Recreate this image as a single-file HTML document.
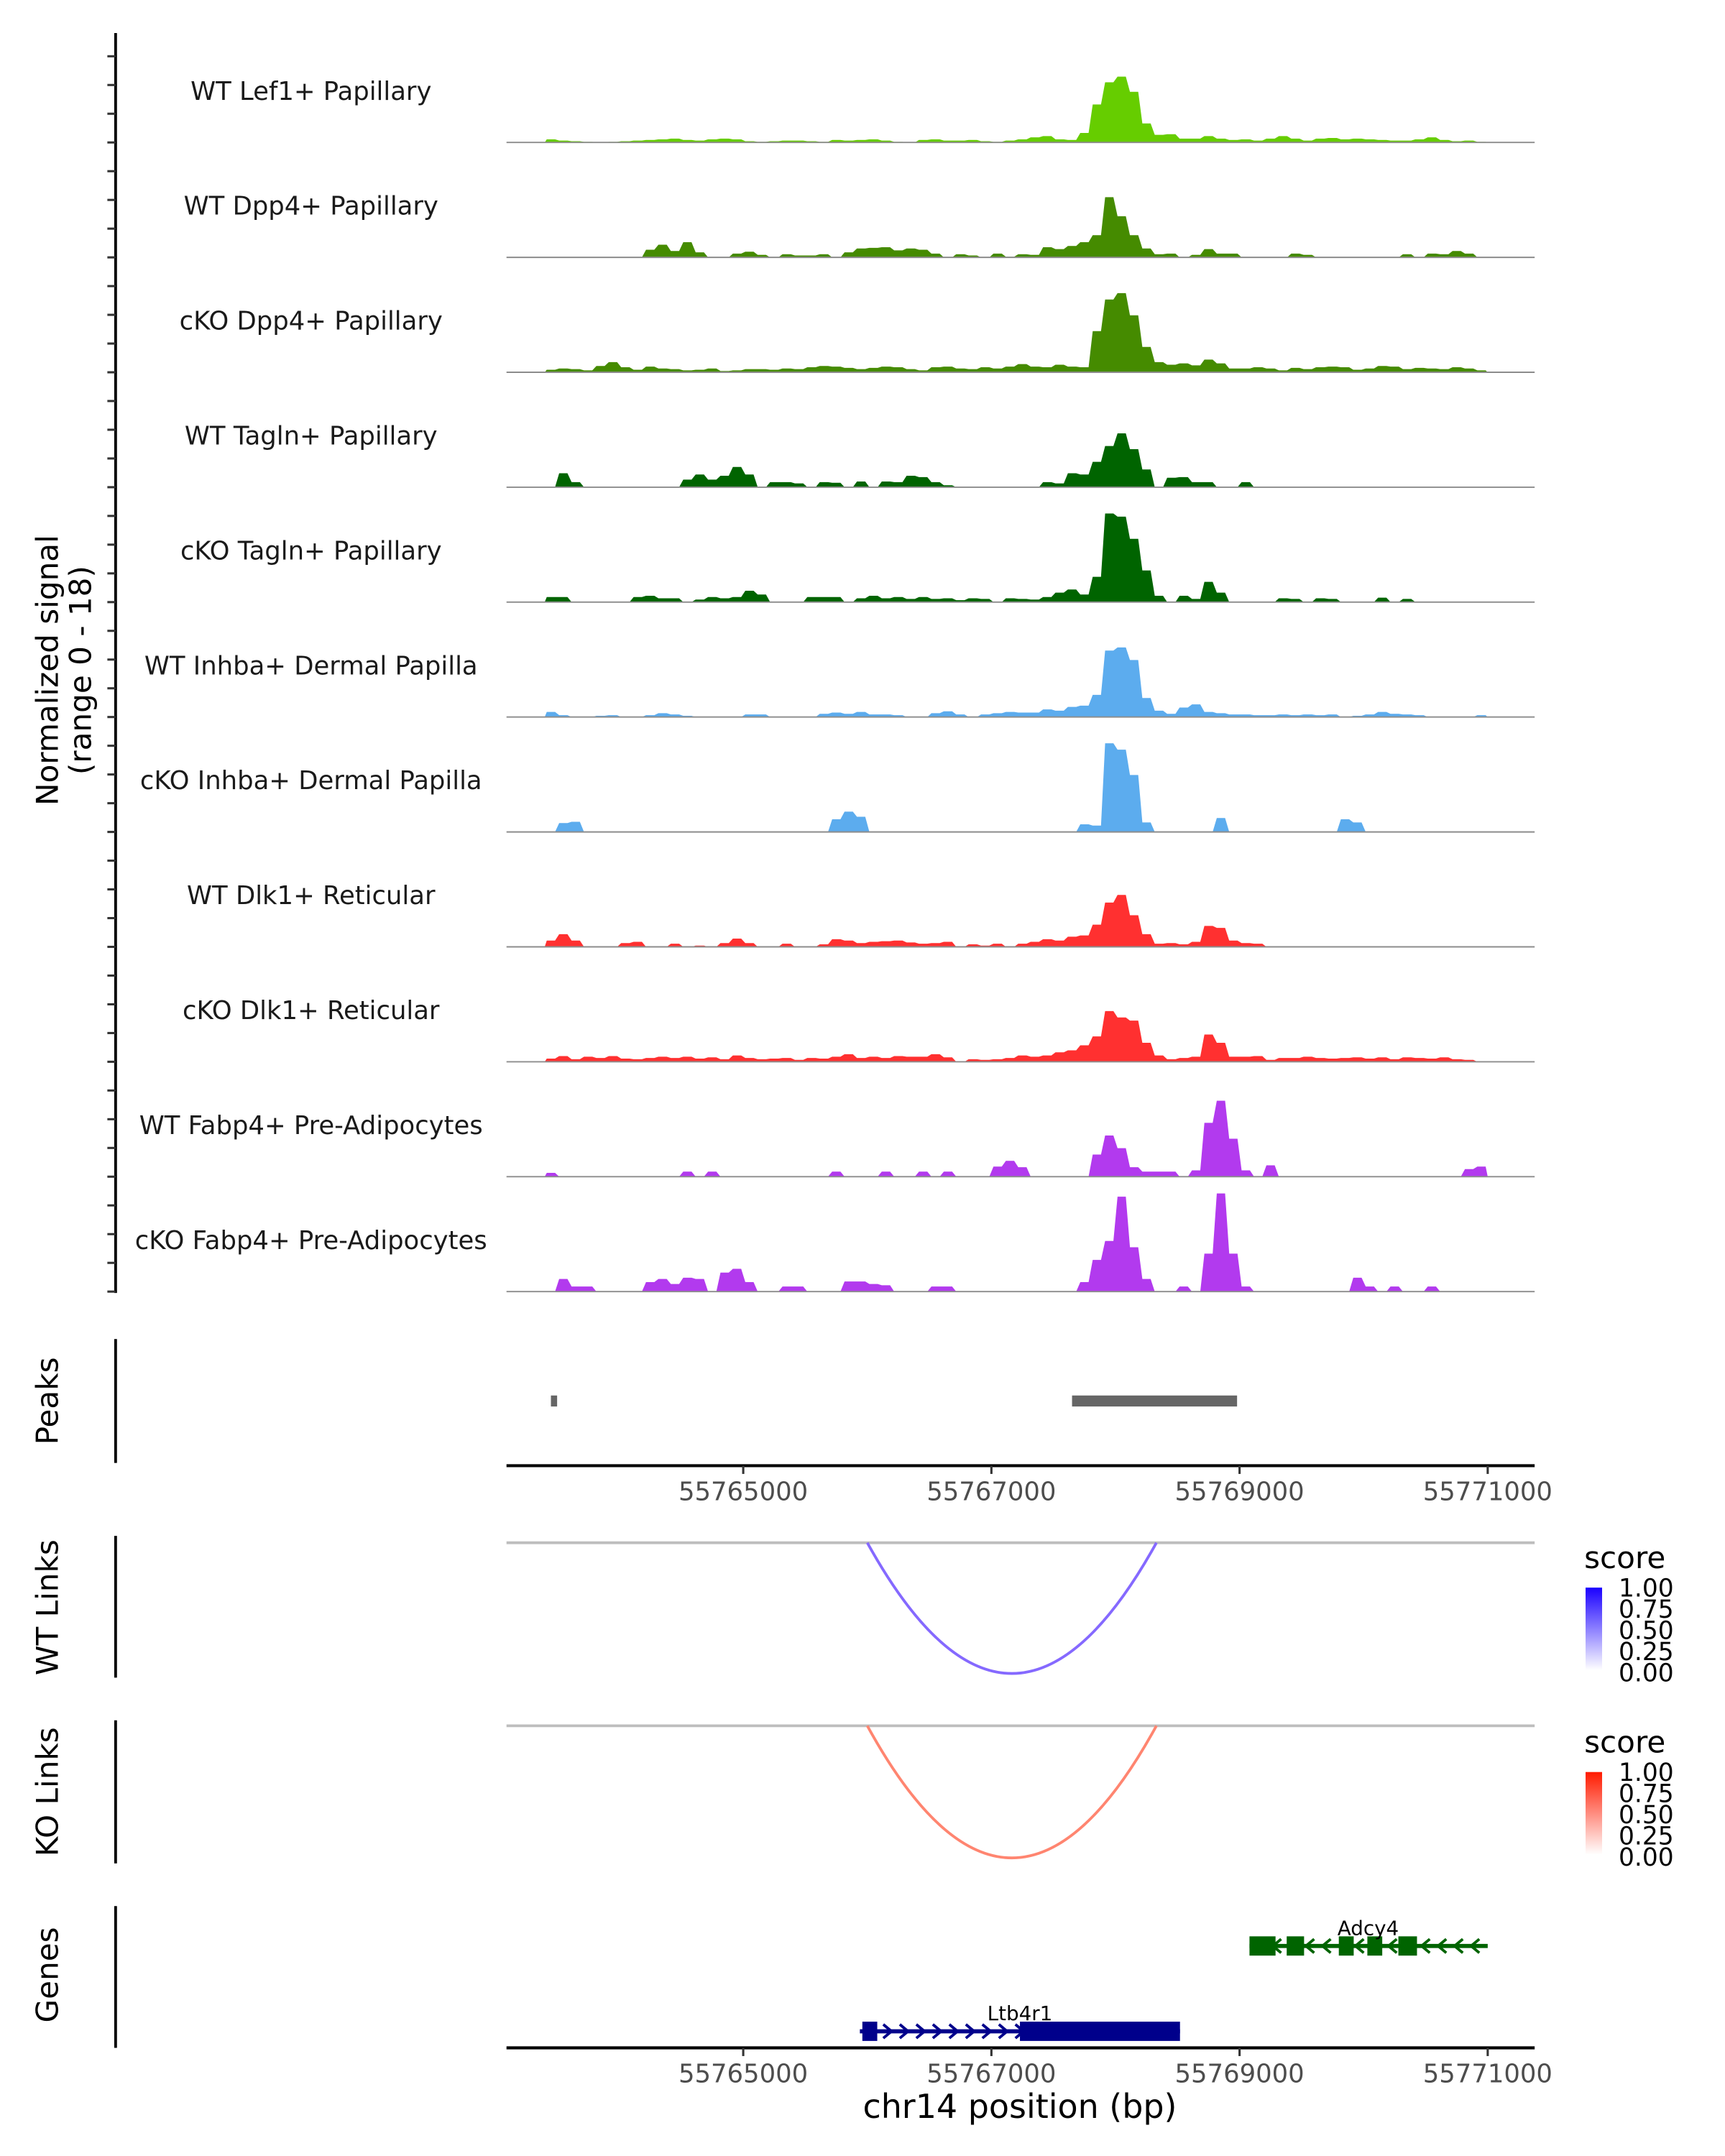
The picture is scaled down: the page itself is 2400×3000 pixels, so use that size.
<!DOCTYPE html>
<html><head><meta charset="utf-8"><style>
html,body{margin:0;padding:0;background:#fff;}
svg{display:block;font-family:"DejaVu Sans","Liberation Sans",sans-serif;}
</style></head><body>
<svg id="chart" xmlns="http://www.w3.org/2000/svg" width="2400" height="3000" viewBox="0 0 1253.3 1566.6">
<rect x="0" y="0" width="1253.3" height="1566.6" fill="#fff"/>
<g id="tracks"></g>
<text transform="translate(42,487) rotate(-90)" text-anchor="middle" font-size="22" fill="#000">Normalized signal</text>
<text transform="translate(66,487) rotate(-90)" text-anchor="middle" font-size="22" fill="#000">(range 0 - 18)</text>

<line x1="84" y1="973" x2="84" y2="1063" stroke="#000" stroke-width="2"/>
<text transform="translate(42,1018) rotate(-90)" text-anchor="middle" font-size="22">Peaks</text>
<g id="peaks"></g>
<g id="xaxis1"></g>

<line x1="84" y1="1116" x2="84" y2="1219" stroke="#000" stroke-width="2"/>
<text transform="translate(42,1168) rotate(-90)" text-anchor="middle" font-size="22">WT Links</text>
<line x1="368" y1="1121" x2="1115" y2="1121" stroke="#bdbdbd" stroke-width="2"/>
<g id="wtlinks"></g>
<line x1="84" y1="1250" x2="84" y2="1354" stroke="#000" stroke-width="2"/>
<text transform="translate(42,1302) rotate(-90)" text-anchor="middle" font-size="22">KO Links</text>
<line x1="368" y1="1254" x2="1115" y2="1254" stroke="#bdbdbd" stroke-width="2"/>
<g id="kolinks"></g>

<defs>
<linearGradient id="gb" x1="0" y1="1" x2="0" y2="0"><stop offset="0" stop-color="#fff"/><stop offset="1" stop-color="#1a00ff"/></linearGradient>
<linearGradient id="gr" x1="0" y1="1" x2="0" y2="0"><stop offset="0" stop-color="#fff"/><stop offset="1" stop-color="#ff1a00"/></linearGradient>
</defs>
<g>
<text x="1151" y="1139.5" font-size="22">score</text>
<rect x="1152" y="1153.6" width="12" height="60" fill="url(#gb)"/>
<g font-size="18" fill="#000">
<text x="1176" y="1160">1.00</text><text x="1176" y="1175.4">0.75</text><text x="1176" y="1190.8">0.50</text><text x="1176" y="1206.2">0.25</text><text x="1176" y="1221.6">0.00</text>
</g></g>
<g>
<text x="1151" y="1273.5" font-size="22">score</text>
<rect x="1152" y="1287.6" width="12" height="60" fill="url(#gr)"/>
<g font-size="18" fill="#000">
<text x="1176" y="1294">1.00</text><text x="1176" y="1309.4">0.75</text><text x="1176" y="1324.8">0.50</text><text x="1176" y="1340.2">0.25</text><text x="1176" y="1355.6">0.00</text>
</g></g>

<line x1="84" y1="1385" x2="84" y2="1488" stroke="#000" stroke-width="2"/>
<text transform="translate(42,1435) rotate(-90)" text-anchor="middle" font-size="22">Genes</text>
<g id="genes"></g>
<g id="xaxis2"></g>
<text x="741" y="1539" text-anchor="middle" font-size="24">chr14 position (bp)</text>
</svg>
<script>
const binStart = 55763400;
const binWidth = 100;
const trackNames = ["WT Lef1+ Papillary","WT Dpp4+ Papillary","cKO Dpp4+ Papillary","WT Tagln+ Papillary","cKO Tagln+ Papillary","WT Inhba+ Dermal Papilla","cKO Inhba+ Dermal Papilla","WT Dlk1+ Reticular","cKO Dlk1+ Reticular","WT Fabp4+ Pre-Adipocytes","cKO Fabp4+ Pre-Adipocytes"];
const trackColors = ["#66cd00","#458b00","#458b00","#006400","#006400","#5cacee","#5cacee","#ff3030","#ff3030","#b23aee","#b23aee"];
const sigLef1WT = [.5,.3,.2,.1,0,.1,.2,.3,.4,.5, .6,.4,.3,.5,.6,.5,.2,.1,.2,.3, .3,.2,.1,.4,.3,.4,.5,.3,.1,0, .4,.5,.3,.3,.4,.2,.1,.3,.5,.8, 1.0,.5,.4,1.5,6.0,9.5,10.4,8.0,3.0,1.2, 1.3,.6,.6,1.0,.6,.4,.5,.3,.6,1.0, .6,.3,.6,.7,.5,.6,.5,.4,.3,.3, .5,.8,.4,.2,.3,.1];
const sigDpp4WT = [0,0,0,0,0,0,0,0,1.2,2.0, 1.0,2.4,.8,0,0,.6,.9,.4,0,.5, .3,.3,.5,0,.8,1.4,1.5,1.6,1.1,1.4, 1.2,.6,0,.5,.3,0,.6,.1,.5,.4, 1.6,1.3,1.8,2.4,3.5,9.5,6.5,3.5,1.4,.5, .6,0,.4,1.3,.6,.6,0,0,0,0, .6,.4,0,0,0,0,0,0,0,.5, 0,.6,.5,1.0,.6,0];
const sigDpp4KO = [.4,.6,.5,.3,1.0,1.6,.8,.4,.9,.6, .5,.3,.4,.6,.2,.3,.5,.5,.4,.6, .5,.8,1.0,.9,.7,.5,.7,.9,.8,.5, .3,.8,.9,.6,.5,.8,.6,.9,1.3,.9, .8,1.2,.9,.8,6.5,11.5,12.5,9.0,4.0,1.6, 1.2,1.4,1.1,2.0,1.4,.6,.6,.8,.6,.3, .7,.5,.8,.9,.8,.4,.6,1.0,.9,.5, .7,.6,.5,.8,.6,.3];
const sigTaglnWT = [0,2.2,.8,0,0,0,0,0,0,0, 0,1.2,2.0,1.2,1.8,3.2,2.0,0,.8,.8, .6,0,.8,.7,0,.9,0,.9,.8,1.8, 1.6,.8,.3,0,0,0,0,0,0,0, .8,.6,2.2,2.0,4.0,6.5,8.5,6.0,2.8,0, 1.5,1.6,.8,.8,0,0,.8,0,0,0, 0,0,0,0,0,0,0,0,0,0, 0,0,0,0,0,0];
const sigTaglnKO = [.8,.8,0,0,0,0,0,.8,1.0,.6, .6,0,.4,.8,.6,.8,1.8,1.2,0,0, 0,.8,.8,.8,0,.6,1.0,.6,.8,.5, .8,.5,.6,.3,.6,.5,0,.6,.5,.4, .8,1.5,2.0,1.2,4.0,14.0,13.5,10.0,5.0,1.0, 0,1.0,.5,3.2,1.5,0,0,0,0,.6, .5,0,.6,.5,0,0,0,.7,0,.5, 0,0,0,0,0,0];
const sigInhbaWT = [.8,.3,0,0,.2,.3,0,0,.3,.6, .4,.2,0,0,0,0,.4,.4,0,0, 0,0,.5,.7,.5,.8,.4,.4,.3,0, 0,.6,.9,.4,0,.4,.6,.8,.7,.7, 1.2,1.0,1.6,1.8,3.5,10.5,11.0,9.0,3.0,1.0, .5,1.5,2.0,.8,.6,.4,.4,.3,.3,.4, .3,.4,.3,.4,0,.2,.4,.8,.5,.4, .3,0,0,0,0,.3];
const sigInhbaKO = [0,1.4,1.6,0,0,0,0,0,0,0, 0,0,0,0,0,0,0,0,0,0, 0,0,0,2.0,3.2,2.4,0,0,0,0, 0,0,0,0,0,0,0,0,0,0, 0,0,0,1.2,1.0,14.0,13.0,9.0,1.5,0, 0,0,0,0,2.2,0,0,0,0,0, 0,0,0,0,2.0,1.5,0,0,0,0, 0,0,0,0,0,0];
const sigDlk1WT = [1.0,2.0,1.0,0,0,0,.6,.8,0,0, .5,0,.2,0,.6,1.3,.6,0,0,.5, 0,0,.4,1.2,1.0,.6,.8,.9,1.0,.7, .5,.6,.8,0,.4,.2,.5,0,.5,.8, 1.2,1.0,1.6,1.8,3.5,7.0,8.2,5.0,2.0,.5, .6,.4,.8,3.3,3.0,1.0,.6,.5,0,0, 0,0,0,0,0,0,0,0,0,0, 0,0,0,0,0,0];
const sigDlk1KO = [.5,.9,.4,.8,.6,.9,.5,.4,.6,.8, .6,.8,.5,.7,.4,1.0,.6,.4,.5,.6, .3,.6,.5,.8,1.2,.6,.8,.6,.9,.8, .8,1.2,.7,0,.4,.3,.4,.6,1.0,.8, 1.0,1.5,1.8,2.6,4.0,8.0,7.0,6.5,3.0,1.0, .4,.6,.8,4.3,3.0,.8,.8,.9,.3,.6, .6,.8,.6,.5,.6,.7,.5,.7,.4,.7, .6,.5,.7,.4,.3,0];
const sigFabp4WT = [.6,0,0,0,0,0,0,0,0,0, 0,.8,0,.8,0,0,0,0,0,0, 0,0,0,.8,0,0,0,.8,0,0, .8,0,.8,0,0,0,1.6,2.5,1.5,0, 0,0,0,0,3.5,6.5,4.5,1.5,.8,.8, .8,0,1.0,8.5,12.0,6.0,1.0,0,1.8,0, 0,0,0,0,0,0,0,0,0,0, 0,0,0,0,1.2,1.6];
const sigFabp4KO = [0,2.0,.8,.8,0,0,0,0,1.5,2.0, 1.2,2.2,2.0,0,3.0,3.6,1.5,0,0,.8, .8,0,0,0,1.6,1.6,1.2,1.0,0,0, 0,.8,.8,0,0,0,0,0,0,0, 0,0,0,1.5,5.0,8.0,15.0,7.0,2.0,0, 0,.8,0,6.0,15.5,6.0,.8,0,0,0, 0,0,0,0,0,2.2,.8,0,.8,0, 0,.8,0,0,0,0];
const signals = [sigLef1WT,sigDpp4WT,sigDpp4KO,sigTaglnWT,sigTaglnKO,sigInhbaWT,sigInhbaKO,sigDlk1WT,sigDlk1KO,sigFabp4WT,sigFabp4KO];
const xTicks = [55765000,55767000,55769000,55771000];
const peakStarts = [55763450, 55767650];
const peakEnds = [55763500, 55768980];
const linkStarts = [55766000];
const linkEnds = [55768330];
const wtLinkScores = [0.7];
const koLinkScores = [0.7];
const geneNames = ["Adcy4","Ltb4r1"];
const geneStarts = [55769080, 55765940];
const geneEnds = [55771000, 55768520];
const geneStrand = [-1, 1];
const adcy4Exons = [[55769080,55769290],[55769380,55769520],[55769800,55769920],[55770030,55770150],[55770280,55770430]];
const ltb4r1Exons = [[55765960,55766080],[55767230,55768520]];
const geneExons = [adcy4Exons, ltb4r1Exons];

const NS="http://www.w3.org/2000/svg";
const X0=368, X1=1115, BP0=55765000, PXBP=180.3/2000;
function xs(bp){return 540 + (bp-BP0)*PXBP;}
const trackH=83.5, firstBase=103.5, unitPx=4.6;
function ys(v,base){return base - v*unitPx;}
function mk(tag,attrs,parent){const e=document.createElementNS(NS,tag);for(const k in attrs)e.setAttribute(k,attrs[k]);parent.appendChild(e);return e;}

const tracks=document.getElementById('tracks');
let ax=mk('line',{x1:84,y1:24,x2:84,y2:firstBase+trackH*10+1,stroke:'#000','stroke-width':2},tracks);


for(let t=0;t<11;t++){
  const base=firstBase+t*trackH;
  for(let k=0;k<4;k++){
    const ty=base-k*trackH/4;
    const tk=mk('line',{x1:78,y1:ty,x2:84,y2:ty,stroke:'#333','stroke-width':1.6},tracks);
    
    
  }
  const g=mk('g',{},tracks);
  
  
  const vals=signals[t];
  let d='M'+xs(binStart).toFixed(2)+','+base;
  for(let i=0;i<vals.length;i++){
    const xa=xs(binStart+i*binWidth), xb=xs(binStart+(i+1)*binWidth);
    d+=' L'+(xa+1.5).toFixed(2)+','+ys(vals[i],base).toFixed(2)+' L'+(xb-1.5).toFixed(2)+','+ys(vals[i],base).toFixed(2);
  }
  d+=' L'+xs(binStart+vals.length*binWidth).toFixed(2)+','+base+' Z';
  const p=mk('path',{d:d,fill:trackColors[t]},g);
  
  
  const bl=mk('line',{x1:X0,y1:base,x2:X1,y2:base,stroke:'#8c8c8c','stroke-width':1},g);
  
  
  const lb=mk('text',{x:226,y:base-31,'text-anchor':'middle','font-size':18.5,fill:'#1a1a1a'},g);
  lb.textContent=trackNames[t];
  
  
}
const pk=document.getElementById('peaks');
for(let i=0;i<peakStarts.length;i++){
  const r=mk('rect',{x:xs(peakStarts[i]),y:1014,width:Math.max(3.5,xs(peakEnds[i])-xs(peakStarts[i])),height:8,fill:'#666'},pk);
  
  
}
function xaxis(id,y){
  const g=document.getElementById(id);
  const l=mk('line',{x1:X0,y1:y,x2:X1,y2:y,stroke:'#000','stroke-width':2.2},g);
  
  
  xTicks.forEach(v=>{
    const t=mk('line',{x1:xs(v),y1:y,x2:xs(v),y2:y+6,stroke:'#333','stroke-width':1.6},g);
    
    
    const tx=mk('text',{x:xs(v),y:y+25,'text-anchor':'middle','font-size':18.5,fill:'#4d4d4d'},g);
    tx.textContent=String(v);
    
    
  });
}
xaxis('xaxis1',1065);
xaxis('xaxis2',1488);
function mix(c,s){return 'rgb('+c.map(v=>Math.round(255-(255-v)*s)).join(',')+')';}
function links(id,base,depth,starts,ends,scores,col){
  const g=document.getElementById(id);
  for(let i=0;i<starts.length;i++){
    const a=xs(starts[i]), b=xs(ends[i]);
    const p=mk('path',{d:'M'+a+','+base+' Q'+((a+b)/2)+','+(base+2*depth)+' '+b+','+base,fill:'none',stroke:mix(col,scores[i]),'stroke-width':2},g);
    
    
  }
}
links('wtlinks',1121,95,linkStarts,linkEnds,wtLinkScores,[80,40,255]);
links('kolinks',1254,96,linkStarts,linkEnds,koLinkScores,[255,80,50]);
const gg=document.getElementById('genes');
const geneY=[1414,1476], geneCol=['#006400','#00008b'];
for(let i=0;i<geneNames.length;i++){
  const g=mk('g',{},gg);
  
  
  const y=geneY[i], c=geneCol[i];
  const a=xs(geneStarts[i]), b=xs(geneEnds[i]);
  mk('line',{x1:a,y1:y,x2:b,y2:y,stroke:c,'stroke-width':3},g);
  for(let x=a+8;x<b-4;x+=12){
    const s=geneStrand[i];
    mk('path',{d:'M'+(x-3*s)+','+(y-5)+' L'+(x+3*s)+','+y+' L'+(x-3*s)+','+(y+5),fill:'none',stroke:c,'stroke-width':2},g);
  }
  geneExons[i].forEach(e=>{
    const r=mk('rect',{x:xs(e[0]),y:y-7,width:xs(e[1])-xs(e[0]),height:14,fill:c},g);
    
    
  });
  const t=mk('text',{x:i==0?994:741,y:y-8,'text-anchor':'middle','font-size':14.5,fill:'#000'},g);
  t.textContent=geneNames[i];
  
  
}
</script>
</body></html>
